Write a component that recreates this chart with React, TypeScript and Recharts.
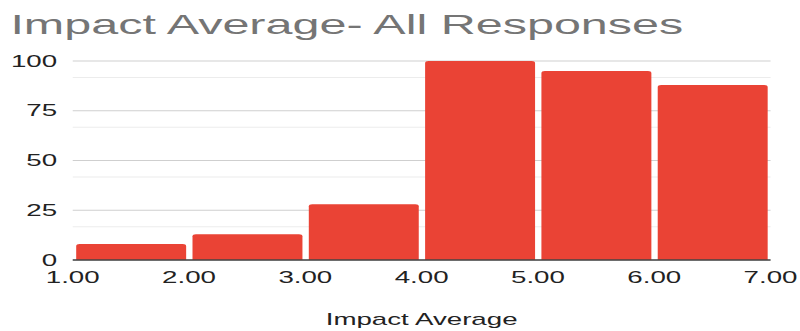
import { BarChart, Bar, XAxis, YAxis, CartesianGrid } from 'recharts';

// histogram bins (midpoints) and counts
const binMids = [1.5, 2.5, 3.5, 4.5, 5.5, 6.5];
const counts = [8, 13, 28, 100, 95, 88];
const xTicks = [1, 2, 3, 4, 5, 6, 7];
const yTicks = [0, 25, 50, 75, 100];
const yMinor = [8.33, 16.67, 33.33, 41.67, 58.33, 66.67, 83.33, 91.67];

const data = binMids.map((mid, i) => ({ mid, count: counts[i] }));

// the source image is stretched sideways, so the chart is drawn narrow and scaled
const STRETCH = 1.7316;
const W = 462;
const H = 331;
const FONT = '"Liberation Sans", Arial, sans-serif';

export default function App() {
  return (
    <div style={{ position: 'absolute', left: 0, top: 0, width: 800, height: H, overflow: 'hidden', background: '#fff' }}>
      <div style={{ position: 'relative', width: W, height: H, transform: `scaleX(${STRETCH})`, transformOrigin: '0 0', fontFamily: FONT }}>
        <div style={{ position: 'absolute', left: 6, top: 11, fontSize: 28, lineHeight: '28px', color: '#757575', whiteSpace: 'nowrap' }}>
          Impact Average- All Responses
        </div>
        <BarChart width={W} height={H} data={data} margin={{ top: 61, right: 17, bottom: 0, left: 0 }}>
          <CartesianGrid horizontalValues={yMinor} vertical={false} stroke="#ececec" strokeWidth={1} />
          <CartesianGrid horizontalValues={yTicks} vertical={false} stroke="#cfcfcf" strokeWidth={1} />
          <XAxis
            dataKey="mid"
            type="number"
            domain={[1, 7]}
            ticks={xTicks}
            tickFormatter={(v: number) => v.toFixed(2)}
            tick={{ fontSize: 16, fill: '#222', fontFamily: FONT }}
            tickLine={false}
            tickSize={6}
            tickMargin={6}
            axisLine={{ stroke: '#444', strokeWidth: 1.5 }}
            height={71}
            label={{ value: 'Impact Average', position: 'insideBottom', offset: 6, fontSize: 16, fill: '#222', fontFamily: FONT }}
          />
          <YAxis
            domain={[0, 100]}
            ticks={yTicks}
            tick={{ fontSize: 16, fill: '#222', fontFamily: FONT }}
            tickLine={false}
            axisLine={false}
            tickSize={0}
            tickMargin={9}
            width={42}
          />
          <Bar dataKey="count" fill="#ea4335" barSize={63.5} radius={[2, 2, 0, 0]} isAnimationActive={false} />
        </BarChart>
      </div>
    </div>
  );
}
